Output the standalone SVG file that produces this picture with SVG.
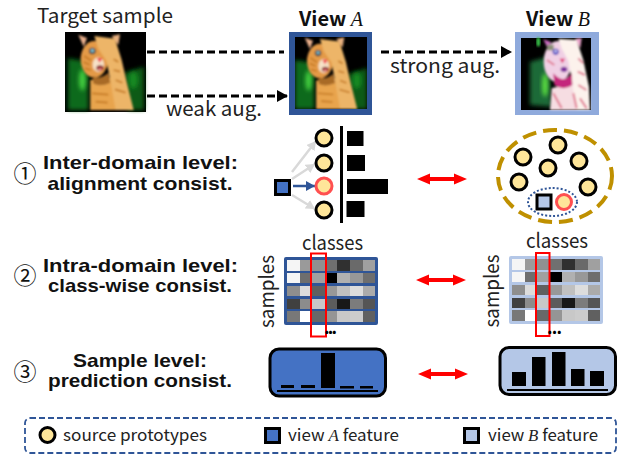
<svg xmlns="http://www.w3.org/2000/svg" width="618" height="454" viewBox="0 0 618 454">
<style>
text{font-family:"Noto Sans CJK SC","Noto Sans","Liberation Sans",sans-serif;fill:#222}
.b{font-weight:700;fill:#111}
.lv{font-family:"Liberation Sans",Arial,sans-serif;font-weight:700;fill:#111;font-size:17.800px;text-anchor:middle}
.m{font-family:"Liberation Serif",serif;font-style:italic;font-weight:400}
.t{font-size:20px}
.h{font-size:20px;text-anchor:middle}
.n{font-size:23px;text-anchor:middle;fill:#111}
.l{font-size:16.500px}
.c{font-size:20px;text-anchor:middle}
.p{fill:#FFE699;stroke:#000;stroke-width:3}
.r{fill:#FFE699;stroke:#FF5050;stroke-width:3}
.d{fill:none;stroke:#000;stroke-width:3;stroke-dasharray:8 4}
.g{fill:none;stroke:#D9D9D9;stroke-width:2.500;marker-end:url(#ag)}
.k{fill:#000}
.dbl{fill:#F00;stroke:none}
</style>
<defs>
<marker id="ak" markerUnits="userSpaceOnUse" markerWidth="12" markerHeight="12" refX="11" refY="6" orient="auto"><path d="M0 0L11 6L0 12Z" fill="#000"/></marker>
<marker id="ag" markerUnits="userSpaceOnUse" markerWidth="10" markerHeight="10" refX="9" refY="5" orient="auto"><path d="M0 0L9 5L0 10Z" fill="#D9D9D9"/></marker>
<marker id="ab" markerUnits="userSpaceOnUse" markerWidth="10" markerHeight="10" refX="9" refY="5" orient="auto"><path d="M0 0L9 5L0 10Z" fill="#2F5597"/></marker>
<filter id="s" x="-5%" y="-5%" width="110%" height="110%"><feGaussianBlur stdDeviation="3"/></filter>
<filter id="bb" x="-50%" y="-50%" width="200%" height="200%"><feGaussianBlur stdDeviation="7"/></filter>
<g id="cat">
<rect x="9" y="12" width="228" height="228" fill="#000"/>
<path d="M9 85L70 95L70 240L9 240Z" fill="#0A6A1C" filter="url(#bb)"/>
<path d="M175 130L237 110L237 240L190 240Z" fill="#0A5A18" filter="url(#bb)"/>
<ellipse cx="52" cy="150" rx="10" ry="32" fill="#45D040" filter="url(#bb)"/>
<ellipse cx="205" cy="150" rx="14" ry="26" fill="#128A24" filter="url(#bb)"/>
<g filter="url(#s)">
<path d="M76 150L152 140L165 240L76 240Z" fill="#E8A44E"/>
<path d="M40 14L66 24L56 50Z" fill="#EBB08C"/>
<path d="M140 18L165 13L160 45Z" fill="#E8B080"/>
<ellipse cx="88" cy="88" rx="41" ry="55" fill="#E49A46"/>
<path d="M88 18L150 26L170 90L186 160L206 240L152 240L136 150L124 92L100 56Z" fill="#EDB568"/>
<ellipse cx="100" cy="104" rx="17" ry="22" fill="#F6E2C8"/>
<path d="M84 138Q105 150 130 128L136 158Q105 172 84 160Z" fill="#A86A28"/>
<path d="M58 78L78 92M56 96L74 104M60 115L78 120M146 88L160 96M146 120L165 125M152 150L172 158M150 178L182 188M82 190L130 194M92 215L128 218" stroke="#C47820" stroke-width="5" fill="none"/>
<circle cx="82" cy="63" r="10" fill="#2A3A40"/><circle cx="82" cy="62" r="5.500" fill="#86C0D0"/>
<path d="M96 84L112 84L104 98Z" fill="#F0283C"/>
<ellipse cx="105" cy="114" rx="11" ry="8" fill="#8A2226"/><ellipse cx="105" cy="118" rx="6" ry="3.500" fill="#F09090"/>
</g>
</g>
<g id="catb">
<rect x="18" y="24" width="210" height="216" fill="#000"/>
<path d="M45 95L100 80L110 230L45 225Z" fill="#1E6A38" filter="url(#bb)"/>
<ellipse cx="90" cy="165" rx="9" ry="36" fill="#5CE040" filter="url(#bb)"/>
<ellipse cx="70" cy="36" rx="6" ry="14" fill="#38C048" filter="url(#s)"/>
<g filter="url(#s)">
<path d="M110 175L200 150L225 240L105 240Z" fill="#F6DDE2"/>
<path d="M85 28L108 36L100 60Z" fill="#C86AC0"/>
<path d="M180 26L200 24L196 55Z" fill="#E8A0C8"/>
<ellipse cx="128" cy="95" rx="42" ry="62" fill="#F0D0E4"/>
<path d="M130 26L185 30L205 90L222 170L225 240L185 240L170 150L160 92L140 55Z" fill="#FCF2EC"/>
<path d="M115 130Q145 165 170 130L172 165Q145 185 118 165Z" fill="#C4287C"/>
<path d="M96 90L118 105M190 85L205 100M188 125L210 135M190 165L214 180M115 190L140 235M195 205L215 235M175 190L185 235" stroke="#E07890" stroke-width="6" fill="none"/>
<rect x="96" y="44" width="20" height="17" fill="#8A9078"/>
<circle cx="122" cy="65" r="9" fill="#3A30B8"/><circle cx="122" cy="64" r="4" fill="#E0E0FF"/>
<path d="M134 86L150 86L142 100Z" fill="#E02C70"/>
<ellipse cx="147" cy="118" rx="10" ry="8" fill="#7A2C9C"/>
</g>
</g>
<path id="dbl" d="M0 0L13 -5.500L13 -2L37 -2L37 -5.500L50 0L37 5.500L37 2L13 2L13 5.500Z"/>
<g id="mat">
<g shape-rendering="crispEdges">
<rect x="0" y="0" width="12.6" height="11" fill="#f5f5f5"/><rect x="12.6" y="0" width="12.6" height="11" fill="#9a9a9a"/><rect x="25.2" y="0" width="12.6" height="11" fill="#909090"/><rect x="37.8" y="0" width="12.6" height="11" fill="#707070"/><rect x="50.4" y="0" width="12.6" height="11" fill="#303030"/><rect x="63" y="0" width="12.6" height="11" fill="#6a6a6a"/><rect x="75.6" y="0" width="12.6" height="11" fill="#a0a0a0"/>
<rect x="0" y="13" width="12.6" height="10" fill="#f5f5f5"/><rect x="12.6" y="13" width="12.6" height="10" fill="#6e6e6e"/><rect x="25.2" y="13" width="12.6" height="10" fill="#a0a0a0"/><rect x="37.8" y="13" width="12.6" height="10" fill="#000"/><rect x="50.4" y="13" width="12.6" height="10" fill="#b0b0b0"/><rect x="63" y="13" width="12.6" height="10" fill="#989898"/><rect x="75.6" y="13" width="12.6" height="10" fill="#6e6e6e"/>
<rect x="0" y="26" width="12.6" height="10" fill="#8e8e8e"/><rect x="12.6" y="26" width="12.6" height="10" fill="#dcdcdc"/><rect x="25.2" y="26" width="12.6" height="10" fill="#606060"/><rect x="37.8" y="26" width="12.6" height="10" fill="#989898"/><rect x="50.4" y="26" width="12.6" height="10" fill="#c0c0c0"/><rect x="63" y="26" width="12.6" height="10" fill="#dddddd"/><rect x="75.6" y="26" width="12.6" height="10" fill="#ababab"/>
<rect x="0" y="38.500" width="12.6" height="10" fill="#404040"/><rect x="12.6" y="38.500" width="12.6" height="10" fill="#8c8c8c"/><rect x="25.2" y="38.500" width="12.6" height="10" fill="#c8c8c8"/><rect x="37.8" y="38.500" width="12.6" height="10" fill="#5c5c5c"/><rect x="50.4" y="38.500" width="12.6" height="10" fill="#181818"/><rect x="63" y="38.500" width="12.6" height="10" fill="#7c7c7c"/><rect x="75.6" y="38.500" width="12.6" height="10" fill="#555555"/>
<rect x="0" y="51" width="12.6" height="11" fill="#787878"/><rect x="12.6" y="51" width="12.6" height="11" fill="#ffffff"/><rect x="25.2" y="51" width="12.6" height="11" fill="#686868"/><rect x="37.8" y="51" width="12.6" height="11" fill="#959595"/><rect x="50.4" y="51" width="12.6" height="11" fill="#c8c8c8"/><rect x="63" y="51" width="12.6" height="11" fill="#cccccc"/><rect x="75.6" y="51" width="12.6" height="11" fill="#606060"/>
</g>
</g>
</defs>
<rect width="618" height="454" fill="#fff"/>

<g id="connectors">
<path class="d" d="M147 52L284 52"/>
<path class="d" d="M147 96L288 96" marker-end="url(#ak)"/>
<path class="d" d="M381 52L512 52" marker-end="url(#ak)"/>
<path class="g" d="M292 172L316 141"/>
<path class="g" d="M292 179L315 164"/>
<path d="M293 186L315 186" fill="none" stroke="#2F5597" stroke-width="2.500" marker-end="url(#ab)"/>
<path class="g" d="M292 195L315 209"/>
<use href="#dbl" class="dbl" x="417" y="179"/>
<use href="#dbl" class="dbl" x="416" y="280"/>
<use href="#dbl" class="dbl" x="418" y="374"/>
</g>

<g id="target-sample">
<text class="t" x="37" y="23" textLength="136" lengthAdjust="spacingAndGlyphs">Target sample</text>
<rect x="65" y="32" width="81" height="80" fill="#000"/>
<svg x="65" y="30" width="84" height="84" viewBox="0 0 252 252"><use href="#cat"/></svg>
</g>
<g id="view-a">
<text class="h b" x="331" y="26"><tspan>View </tspan><tspan class="m" font-size="20">A</tspan></text>
<rect x="289" y="32" width="83" height="83" fill="#2F5597"/>
<svg x="295" y="37" width="72" height="72" viewBox="9 12 228 228"><use href="#cat"/></svg>
</g>
<g id="view-b">
<text class="h b" x="558" y="26"><tspan>View </tspan><tspan class="m" font-size="20">B</tspan></text>
<rect x="515" y="32" width="84" height="83" fill="#8FAADC"/>
<svg x="515" y="30" width="84" height="84" viewBox="0 0 252 252"><use href="#catb"/></svg>
</g>
<g id="aug-labels">
<text class="t" x="166" y="116" textLength="96" lengthAdjust="spacingAndGlyphs">weak aug.</text>
<text class="t" x="390" y="73" textLength="110" lengthAdjust="spacingAndGlyphs">strong aug.</text>
</g>

<g id="level-1">
<text class="n" x="25" y="182">①</text>
<text class="lv" x="140.500" y="169" textLength="195" lengthAdjust="spacingAndGlyphs">Inter-domain level:</text>
<text class="lv" x="140" y="190" textLength="185" lengthAdjust="spacingAndGlyphs">alignment consist.</text>
</g>
<g id="level-2">
<text class="n" x="25" y="284">②</text>
<text class="lv" x="140.500" y="271.500" textLength="195" lengthAdjust="spacingAndGlyphs">Intra-domain level:</text>
<text class="lv" x="140" y="292" textLength="184" lengthAdjust="spacingAndGlyphs">class-wise consist.</text>
</g>
<g id="level-3">
<text class="n" x="25" y="380">③</text>
<text class="lv" x="140" y="366.500" textLength="134" lengthAdjust="spacingAndGlyphs">Sample level:</text>
<text class="lv" x="140" y="387" textLength="184" lengthAdjust="spacingAndGlyphs">prediction consist.</text>
</g>

<g id="prototype-a">
<rect x="275.500" y="180.500" width="14" height="14" fill="#4472C4" stroke="#000" stroke-width="3"/>
<circle class="p" cx="324" cy="138" r="8"/>
<circle class="p" cx="324" cy="163" r="8"/>
<circle class="r" cx="324" cy="186" r="8"/>
<circle class="p" cx="324" cy="210" r="8"/>
<rect x="340" y="126" width="3" height="97" fill="#000"/>
<rect class="k" x="347" y="131" width="16.500" height="15"/>
<rect class="k" x="347" y="155" width="18" height="16"/>
<rect class="k" x="347" y="179" width="41" height="15"/>
<rect class="k" x="346.500" y="201" width="18" height="16"/>
</g>
<g id="prototype-b">
<ellipse cx="555" cy="176" rx="57" ry="46" fill="none" stroke="#BF9000" stroke-width="4" stroke-dasharray="14 7"/>
<circle class="p" cx="523" cy="157" r="8"/>
<circle class="p" cx="558" cy="145" r="8"/>
<circle class="p" cx="579" cy="161" r="8"/>
<circle class="p" cx="548" cy="168" r="8"/>
<circle class="p" cx="519" cy="182" r="8"/>
<circle class="p" cx="588" cy="187" r="8"/>
<ellipse cx="552.500" cy="202" rx="24.500" ry="14" fill="none" stroke="#2F5597" stroke-width="2" stroke-dasharray="2 2"/>
<rect x="537" y="195" width="14" height="14" fill="#B4C7E7" stroke="#000" stroke-width="3"/>
<circle class="r" cx="564" cy="202" r="7.500"/>
</g>

<g id="matrix-a">
<text class="c" x="332.500" y="250" textLength="61" lengthAdjust="spacingAndGlyphs">classes</text>
<text class="c" transform="translate(274 291.500) rotate(-90)" textLength="73" lengthAdjust="spacingAndGlyphs">samples</text>
<rect x="284" y="257" width="94" height="68" rx="2" fill="#2F5597"/>
<use href="#mat" x="287" y="260"/>
<rect x="311" y="253.500" width="15" height="83" fill="none" stroke="#F00" stroke-width="2"/>
<text x="324" y="334" style="font-size:17px;font-weight:700;fill:#000" textLength="13">...</text>
</g>
<g id="matrix-b">
<text class="c" x="557" y="248" textLength="62" lengthAdjust="spacingAndGlyphs">classes</text>
<text class="c" transform="translate(499 291) rotate(-90)" textLength="73" lengthAdjust="spacingAndGlyphs">samples</text>
<rect x="509" y="256" width="94" height="68" rx="2" fill="#B4C7E7"/>
<use href="#mat" x="512" y="259"/>
<rect x="536" y="253" width="13.500" height="83" fill="none" stroke="#F00" stroke-width="2"/>
<text x="547" y="334" style="font-size:17px;font-weight:700;fill:#000" textLength="15">...</text>
</g>

<g id="prediction-a">
<rect x="270" y="349" width="115.500" height="47" rx="9" fill="#4472C4" stroke="#000" stroke-width="3"/>
<rect class="k" x="281" y="385" width="13" height="3"/>
<rect class="k" x="301" y="385" width="14" height="3"/>
<rect class="k" x="321" y="353" width="14" height="35"/>
<rect class="k" x="340" y="386" width="14" height="2.500"/>
<rect class="k" x="360" y="386" width="13" height="2.500"/>
<rect class="k" x="277" y="390" width="101" height="2"/>
</g>
<g id="prediction-b">
<rect x="500" y="347.500" width="115.500" height="47" rx="9" fill="#B4C7E7" stroke="#000" stroke-width="3"/>
<rect class="k" x="512" y="372" width="14" height="14"/>
<rect class="k" x="532" y="357" width="13.500" height="29"/>
<rect class="k" x="552" y="352" width="13.500" height="34"/>
<rect class="k" x="571" y="369" width="13.500" height="17"/>
<rect class="k" x="590" y="371" width="14" height="15"/>
<rect class="k" x="507" y="389" width="101" height="2"/>
</g>

<g id="legend">
<rect x="25" y="418" width="591" height="35" rx="5" fill="none" stroke="#2F5597" stroke-width="1.800" stroke-dasharray="6 3"/>
<circle class="p" cx="47.500" cy="435" r="7.500"/>
<text class="l" x="63" y="441" textLength="144" lengthAdjust="spacingAndGlyphs">source prototypes</text>
<rect x="265.500" y="428.500" width="14" height="14" fill="#4472C4" stroke="#000" stroke-width="3"/>
<text class="l" x="288" y="441" textLength="111" lengthAdjust="spacingAndGlyphs">view <tspan class="m">A</tspan> feature</text>
<rect x="464.500" y="428.500" width="14" height="14" fill="#B4C7E7" stroke="#000" stroke-width="3"/>
<text class="l" x="488" y="441" textLength="110" lengthAdjust="spacingAndGlyphs">view <tspan class="m">B</tspan> feature</text>
</g>
</svg>
